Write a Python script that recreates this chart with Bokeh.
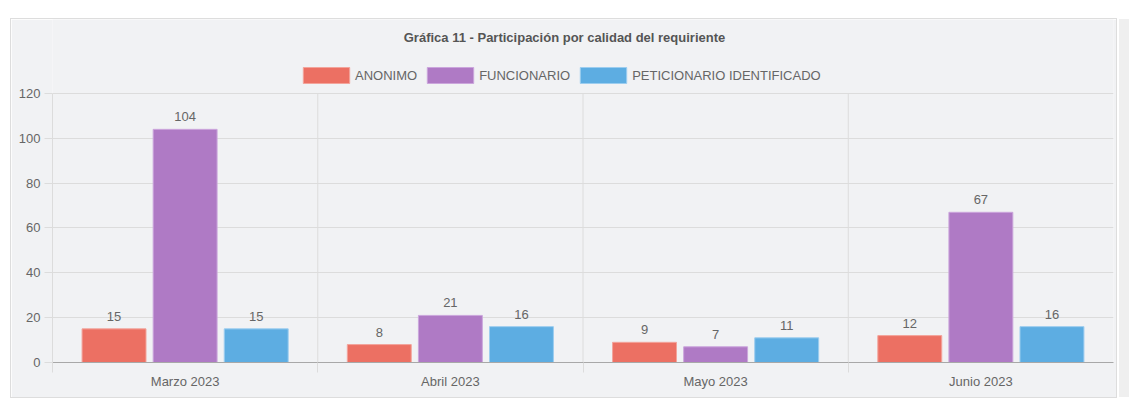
from bokeh.plotting import figure
from bokeh.models import (ColumnDataSource, FixedTicker, Legend, LegendItem, LabelSet, Label)
from bokeh.core.properties import value
from bokeh.embed import file_html
from bokeh.resources import INLINE

categories = ["Marzo 2023", "Abril 2023", "Mayo 2023", "Junio 2023"]
series_names = ["ANONIMO", "FUNCIONARIO", "PETICIONARIO IDENTIFICADO"]
anonimo = [15, 8, 9, 12]
funcionario = [104, 21, 7, 67]
peticionario = [15, 16, 11, 16]
y_ticks = [0, 20, 40, 60, 80, 100, 120]
title_text = "Gráfica 11 - Participación por calidad del requiriente"

colors = ["#EC7063", "#AF7AC5", "#5DADE2"]
edge_colors = ["#f3a49b", "#cba6dc", "#9ccdef"]
offsets = [-0.268, 0.0, 0.268]
bar_w = 0.241
FONT = "Liberation Sans"
TXT = "#666666"
BG = "#f1f2f4"
GRID = "#dcdcdc"
FS = "13px"

n = len(categories)
centers = [i + 0.5 for i in range(n)]
bounds = list(range(n))
y_max = y_ticks[-1]

p = figure(width=1105, height=378, x_range=(0, n), y_range=(0, 153.0),
           output_backend="svg", toolbar_location=None,
           min_border_left=41, min_border_right=3, min_border_bottom=35, min_border_top=0)
p.title.visible = False
p.background_fill_color = BG
p.border_fill_color = BG
p.outline_line_color = None

# vertical separators between categories
p.segment(x0=bounds, x1=bounds, y0=[0] * len(bounds), y1=[y_max] * len(bounds),
          line_color=GRID, line_width=1)

series = [anonimo, funcionario, peticionario]
items = []
for k, (name, vals) in enumerate(zip(series_names, series)):
    src = ColumnDataSource(dict(x=[c + offsets[k] for c in centers], top=vals,
                                lbl=[str(v) for v in vals]))
    r = p.vbar(x="x", top="top", width=bar_w, source=src, fill_color=colors[k],
               line_color=edge_colors[k], line_width=1)
    items.append(LegendItem(label=name, renderers=[r]))
    ls = LabelSet(x="x", y="top", text="lbl", source=src, text_align="center",
                  text_baseline="bottom", y_offset=8, text_font_size=value(FS),
                  text_color=TXT, text_font=value(FONT))
    p.add_layout(ls)

legend = Legend(items=items, orientation="horizontal", location=(245, 276.7),
                glyph_width=58, glyph_height=20, label_height=20,
                label_text_font_size=FS,
                label_text_color=TXT, label_text_font=FONT, spacing=4,
                label_standoff=0, background_fill_alpha=0, border_line_color=None,
                padding=0, margin=0)
p.add_layout(legend, "center")

title = Label(x=n / 2, y=144.8, x_offset=-18.5, text=title_text, text_align="center",
              text_baseline="middle", text_font=FONT, text_font_size=FS,
              text_font_style="bold", text_color="#555555")
p.add_layout(title)

# y axis
p.yaxis.ticker = FixedTicker(ticks=y_ticks)
p.yaxis.bounds = (0, y_max)
p.yaxis.axis_line_color = GRID
p.yaxis.major_tick_line_color = GRID
p.yaxis.major_tick_out = 8
p.yaxis.major_tick_in = 0
p.yaxis.minor_tick_line_color = None
p.yaxis.major_label_standoff = 4
p.yaxis.major_label_text_font = FONT
p.yaxis.major_label_text_font_size = FS
p.yaxis.major_label_text_color = TXT
p.ygrid.ticker = FixedTicker(ticks=y_ticks)
p.ygrid.grid_line_color = GRID

# x axis
p.xaxis.ticker = FixedTicker(ticks=centers, minor_ticks=bounds)
p.xaxis.major_label_overrides = {c: cat for c, cat in zip(centers, categories)}
p.xaxis.major_tick_line_color = None
p.xaxis.major_tick_out = 0
p.xaxis.major_tick_in = 0
p.xaxis.minor_tick_line_color = GRID
p.xaxis.minor_tick_out = 10
p.xaxis.minor_tick_in = 0
p.xaxis.axis_line_color = "#a8a8a8"
p.xaxis.major_label_standoff = 1
p.xaxis.major_label_text_font = FONT
p.xaxis.major_label_text_font_size = FS
p.xaxis.major_label_text_color = TXT
p.xgrid.visible = False

p.styles = {"outline": "1px solid #dddddd", "margin-left": "11px", "margin-top": "19px",
            "box-shadow": "3px 0 0 0 #ffffff, 14px 0 0 0 #efefef"}

open("out.html", "w").write(file_html(p, INLINE))
